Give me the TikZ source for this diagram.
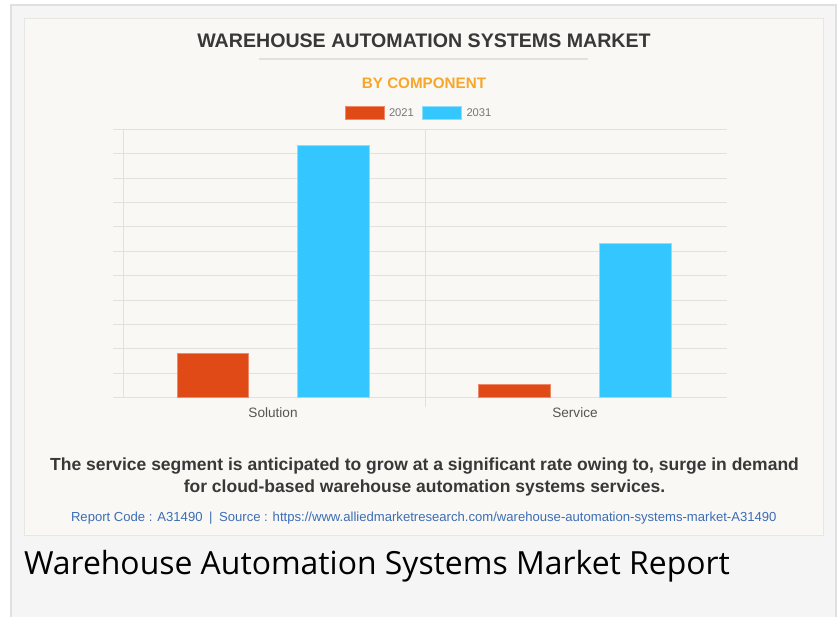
\documentclass[tikz,border=0pt]{standalone}
\usepackage{fontspec}
\setmainfont{Liberation Sans}
\newfontfamily\headfont{Open Sans}
\definecolor{outerbg}{HTML}{F5F5F5}
\definecolor{outerline}{HTML}{E0E0E0}
\definecolor{cardbg}{HTML}{F9F8F4}
\definecolor{cardline}{HTML}{E6E6E3}
\definecolor{gridc}{HTML}{E2E1DD}
\definecolor{titlec}{HTML}{383838}
\definecolor{orangec}{HTML}{F8A62A}
\definecolor{redbar}{HTML}{E04A16}
\definecolor{rededge}{HTML}{EE8A6A}
\definecolor{bluebar}{HTML}{33C6FF}
\definecolor{blueedge}{HTML}{8FDDFB}
\definecolor{legtext}{HTML}{777777}
\definecolor{axtext}{HTML}{555555}
\definecolor{captc}{HTML}{383838}
\definecolor{linkc}{HTML}{3D6DB5}
\begin{document}
\begin{tikzpicture}[x=1pt,y=-1pt,
  gridline/.style={draw=gridc,line width=1pt},
  redbox/.style={fill=redbar,draw=rededge,line width=0.8pt},
  bluebox/.style={fill=bluebar,draw=blueedge,line width=0.8pt},
  txt/.style={inner sep=0pt,outer sep=0pt,anchor=base}]
\useasboundingbox (0,0) rectangle (838,617);
\fill[white] (0,0) rectangle (838,617);
\draw[draw=outerline,fill=outerbg,line width=2pt] (11,5) rectangle (836,660);
\draw[draw=cardline,fill=cardbg,line width=1pt] (24,18.5) rectangle (823,535.5);
% title
\node[txt,font=\bfseries\fontsize{19.6}{22}\selectfont,text=titlec] (title) at (424,47.7) {WAREHOUSE AUTOMATION SYSTEMS MARKET};
\draw[draw=gridc,line width=1.6pt] (259,59) -- (588,59);
\node[txt,font=\bfseries\fontsize{15.2}{18}\selectfont,text=orangec] (sub) at (424,88.3) {BY COMPONENT};
% legend
\draw[redbox] (345.5,106.5) rectangle (384.5,119.5);
\node[txt,anchor=base west,font=\fontsize{11.2}{13}\selectfont,text=legtext] (l2021) at (389,116.7) {2021};
\draw[bluebox] (422,106.5) rectangle (461.5,119.5);
\node[txt,anchor=base west,font=\fontsize{11.2}{13}\selectfont,text=legtext] (l2031) at (466.5,116.7) {2031};
% grid
\foreach \k in {0,...,11} {
  \draw[gridline] (113,129.3+\k*24.4) -- (727,129.3+\k*24.4);
}
\draw[gridline] (123,129.3) -- (123,397.7);
\draw[gridline] (425,129.3) -- (425,407);
% bars
\draw[redbox] (177,353.3) rectangle (248.7,397.7);
\draw[bluebox] (297.3,145.3) rectangle (369.3,397.7);
\draw[redbox] (478.5,384.3) rectangle (550.7,397.7);
\draw[bluebox] (599.3,243.3) rectangle (671.7,397.7);
% axis labels
\node[txt,font=\fontsize{13.6}{16}\selectfont,text=axtext] (solution) at (273,417.5) {Solution};
\node[txt,font=\fontsize{13.6}{16}\selectfont,text=axtext] (service) at (575,417.5) {Service};
% caption
\node[txt,font=\bfseries\fontsize{17.5}{20}\selectfont,text=captc] (cap1) at (424.5,470) {The service segment is anticipated to grow at a significant rate owing to, surge in demand};
\node[txt,font=\bfseries\fontsize{17.5}{20}\selectfont,text=captc] (cap2) at (424.5,492) {for cloud-based warehouse automation systems services.};
\node[txt,font=\fontsize{13.1}{15}\selectfont,text=linkc] (src) at (423.8,521) {Report Code : A31490\enspace|\enspace Source : https://www.alliedmarketresearch.com/warehouse-automation-systems-market-A31490};
% heading
\node[txt,anchor=base west,font=\headfont\fontsize{31.9}{38}\selectfont,text=black] (heading) at (24,574) {Warehouse Automation Systems Market Report};
\end{tikzpicture}
\end{document}
